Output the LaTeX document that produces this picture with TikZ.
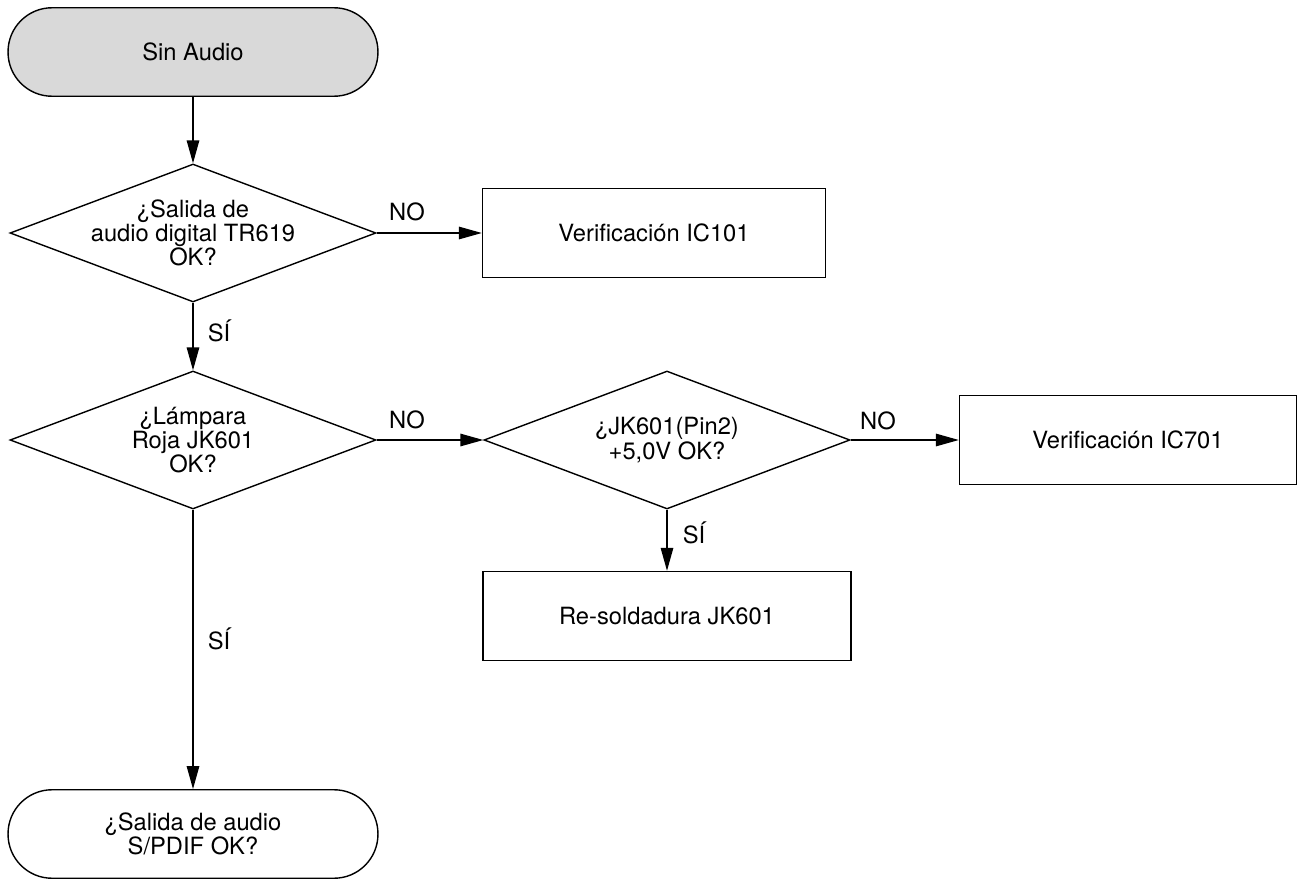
\documentclass[tikz,border=0pt]{standalone}
\usepackage{fontspec}
\setmainfont{TeX Gyre Heros}
\usetikzlibrary{shapes.geometric,arrows.meta}
\begin{document}
\begin{tikzpicture}[x=0.02cm,y=-0.02cm,
  every node/.style={font=\fontsize{13.5}{13.8}\selectfont},
  term/.style={draw=black,line width=0.8pt,rectangle,rounded corners=0.88cm,minimum width=7.4cm,minimum height=1.77cm,align=center},
  dia/.style={draw=black,line width=0.8pt,diamond,minimum width=7.32cm,minimum height=2.76cm,inner sep=0pt},
  boxn/.style={draw=black,line width=0.8pt,rectangle,minimum height=1.78cm,align=center},
  txt/.style={align=center,inner sep=0pt},
  conn/.style={line width=0.8pt,-{Triangle[length=0.46cm,width=0.25cm]}},
  lbl/.style={inner sep=0pt}]
\useasboundingbox (0,0) rectangle (1303,879);
\node[term,fill=black!15] (start) at (193,52) {Sin Audio};
\node[dia] (d1) at (193,233) {};
\node[txt] (t1) at (d1) {¿Salida de\\audio digital TR619\\OK?};
\node[boxn,minimum width=6.86cm] (b1) at (654,233) {Verificación IC101};
\node[dia] (d2) at (193,440) {};
\node[txt] (t2) at (d2) {¿Lámpara\\Roja JK601\\OK?};
\node[dia] (d3) at (667,440) {};
\node[txt] (t3) at (d3) {¿JK601(Pin2)\\+5,0V OK?};
\node[boxn,minimum width=6.74cm] (b2) at (1128,440) {Verificación IC701};
\node[boxn,minimum width=7.36cm] (b3) at (667,616) {Re-soldadura JK601};
\node[term] (end) at (193,834) {¿Salida de audio\\S/PDIF OK?};
\draw[conn] (start.south) -- (d1.north);
\draw[conn] (d1.east) -- (b1.west |- d1.east);
\draw[conn] (d1.south) -- (d2.north);
\draw[conn] (d2.east) -- (d3.west);
\draw[conn] (d3.east) -- (b2.west |- d3.east);
\draw[conn] (d3.south) -- (b3.north);
\draw[conn] (d2.south) -- (end.north);
\node[lbl] (n1) at (407,212) {NO};
\node[lbl] (n2) at (407,420) {NO};
\node[lbl] (n3) at (878,421) {NO};
\node[lbl] (s1) at (219,331) {SÍ};
\node[lbl] (s2) at (219,639) {SÍ};
\node[lbl] (s3) at (694,533) {SÍ};
\end{tikzpicture}
\end{document}
